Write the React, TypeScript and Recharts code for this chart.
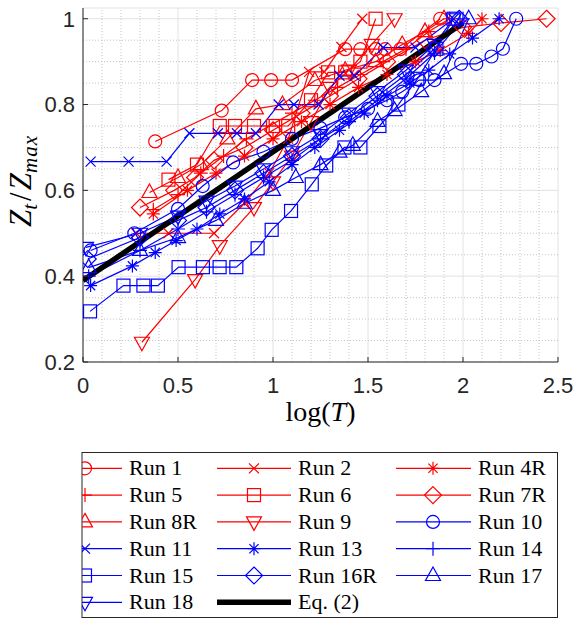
import React from "react";
import {
  LineChart,
  Line,
  XAxis,
  YAxis,
  CartesianGrid,
  ReferenceLine,
} from "recharts";

// ─── Data (log T, Zt/Zmax) ────────────────────────
const run1X = [0.38, 0.73, 0.89, 0.99, 1.1, 1.38, 1.46, 1.54, 1.59, 1.67, 1.88];
const run1Y = [0.714, 0.786, 0.857, 0.857, 0.857, 0.929, 0.929, 0.929, 0.929, 0.929, 1.0];

const run2X = [0.28, 0.45, 0.69, 0.85, 0.98, 1.08, 1.19, 1.27, 1.36, 1.47];
const run2Y = [0.5, 0.5, 0.5, 0.57, 0.64, 0.72, 0.876, 0.876, 0.934, 1.0];

const run4RX = [0.37, 0.55, 0.7, 0.85, 1.0, 1.15, 1.3, 1.45, 1.6, 1.75, 1.88, 2.03, 2.1];
const run4RY = [0.545, 0.6, 0.64, 0.68, 0.72, 0.76, 0.8, 0.84, 0.87, 0.9, 0.926, 0.966, 1.0];

const run5X = [0.37, 0.5, 0.62, 0.74, 0.86, 0.98, 1.1, 1.22, 1.34, 1.46, 1.58, 1.7, 1.82, 1.93];
const run5Y = [0.555, 0.59, 0.64, 0.68, 0.72, 0.75, 0.78, 0.81, 0.84, 0.87, 0.9, 0.93, 0.97, 1.0];

const run6X = [0.45, 0.6, 0.72, 0.8, 0.9, 1.0, 1.08, 1.2, 1.29, 1.38, 1.46, 1.54];
const run6Y = [0.625, 0.66, 0.75, 0.75, 0.75, 0.75, 0.75, 0.81, 0.875, 0.875, 0.9, 1.0];

const run7RX = [0.3, 0.48, 0.59, 0.69, 0.85, 1.0, 1.15, 1.3, 1.45, 1.6, 1.8, 2.0, 2.2, 2.44];
const run7RY = [0.56, 0.6, 0.63, 0.67, 0.7, 0.74, 0.78, 0.82, 0.86, 0.9, 0.95, 0.98, 0.99, 1.0];

const run8RX = [0.35, 0.5, 0.62, 0.76, 0.91, 1.05, 1.22, 1.38, 1.54, 1.68, 1.8, 1.9];
const run8RY = [0.595, 0.63, 0.66, 0.72, 0.79, 0.8, 0.856, 0.88, 0.9, 0.94, 0.97, 1.0];

const run9X = [0.31, 0.59, 0.72, 0.9, 1.0, 1.1, 1.2, 1.3, 1.4, 1.52, 1.64];
const run9Y = [0.246, 0.392, 0.471, 0.56, 0.62, 0.68, 0.76, 0.84, 0.88, 0.94, 1.0];

const run10X = [0.04, 0.27, 0.5, 0.63, 0.79, 0.95, 1.1, 1.25, 1.38, 1.5, 1.6, 1.68, 1.77, 1.85, 1.99, 2.07, 2.15, 2.21, 2.28];
const run10Y = [0.46, 0.5, 0.557, 0.61, 0.665, 0.69, 0.72, 0.745, 0.77, 0.79, 0.81, 0.83, 0.857, 0.857, 0.895, 0.895, 0.912, 0.93, 1.0];

const run11X = [0.04, 0.24, 0.44, 0.56, 0.71, 0.81, 0.91, 1.03, 1.11, 1.24, 1.35, 1.43, 1.58, 1.75, 1.95];
const run11Y = [0.667, 0.667, 0.667, 0.733, 0.733, 0.733, 0.733, 0.8, 0.8, 0.8, 0.867, 0.867, 0.933, 0.933, 1.0];

const run13X = [0.04, 0.26, 0.38, 0.49, 0.6, 0.72, 0.85, 0.98, 1.1, 1.22, 1.35, 1.48, 1.6, 1.72, 1.82, 1.93, 2.05, 2.19];
const run13Y = [0.378, 0.424, 0.455, 0.483, 0.51, 0.545, 0.58, 0.62, 0.66, 0.7, 0.74, 0.78, 0.82, 0.85, 0.88, 0.918, 0.955, 1.0];

const run14X = [0.03, 0.3, 0.5, 0.65, 0.8, 0.95, 1.1, 1.25, 1.4, 1.55, 1.7, 1.85, 2.0];
const run14Y = [0.4, 0.46, 0.51, 0.55, 0.59, 0.63, 0.67, 0.72, 0.76, 0.81, 0.86, 0.92, 1.0];

const run15X = [0.037, 0.213, 0.318, 0.394, 0.503, 0.631, 0.719, 0.807, 0.919, 0.993, 1.095, 1.204, 1.28, 1.376, 1.46, 1.56, 1.66, 1.76, 1.86, 1.95];
const run15Y = [0.318, 0.378, 0.378, 0.378, 0.421, 0.421, 0.421, 0.421, 0.465, 0.508, 0.552, 0.614, 0.658, 0.7, 0.7, 0.75, 0.8, 0.86, 0.93, 1.0];

const run16RX = [0.025, 0.3, 0.5, 0.65, 0.8, 0.95, 1.1, 1.25, 1.4, 1.55, 1.7, 1.85, 1.98];
const run16RY = [0.44, 0.49, 0.53, 0.56, 0.6, 0.64, 0.68, 0.72, 0.77, 0.82, 0.87, 0.93, 1.0];

const run17X = [0.03, 0.3, 0.5, 0.7, 0.85, 1.0, 1.12, 1.25, 1.35, 1.42, 1.55, 1.64, 1.78, 1.9, 2.03];
const run17Y = [0.42, 0.46, 0.49, 0.53, 0.57, 0.6, 0.63, 0.66, 0.689, 0.705, 0.761, 0.786, 0.83, 0.872, 1.0];

const run18X = [0.016, 0.3, 0.5, 0.65, 0.8, 0.95, 1.1, 1.25, 1.4, 1.55, 1.7, 1.85, 1.95];
const run18Y = [0.467, 0.5, 0.54, 0.575, 0.61, 0.65, 0.69, 0.73, 0.78, 0.83, 0.88, 0.94, 1.0];

const eqX = [0, 2];
const eqY = [0.39, 0.99];

const xTicks = [0, 0.5, 1, 1.5, 2, 2.5];
const yTicks = [0.2, 0.4, 0.6, 0.8, 1];

// ─── Styles ───────────────────────────────────────
const RED = "#ff0000";
const BLUE = "#0000ff";
const AXIS = "#262626";
const SANS = "'Liberation Sans', Arial, sans-serif";
const SERIF = "'Liberation Serif', 'Times New Roman', serif";
const LW = 1.2;

type Shape = "circle" | "x" | "star" | "plus" | "square" | "diamond" | "triUp" | "triDown" | "none";

interface Series {
  name: string;
  xs: number[];
  ys: number[];
  color: string;
  shape: Shape;
  width?: number;
}

const series: Series[] = [
  { name: "Run 1", xs: run1X, ys: run1Y, color: RED, shape: "circle" },
  { name: "Run 2", xs: run2X, ys: run2Y, color: RED, shape: "x" },
  { name: "Run 4R", xs: run4RX, ys: run4RY, color: RED, shape: "star" },
  { name: "Run 5", xs: run5X, ys: run5Y, color: RED, shape: "plus" },
  { name: "Run 6", xs: run6X, ys: run6Y, color: RED, shape: "square" },
  { name: "Run 7R", xs: run7RX, ys: run7RY, color: RED, shape: "diamond" },
  { name: "Run 8R", xs: run8RX, ys: run8RY, color: RED, shape: "triUp" },
  { name: "Run 9", xs: run9X, ys: run9Y, color: RED, shape: "triDown" },
  { name: "Run 10", xs: run10X, ys: run10Y, color: BLUE, shape: "circle" },
  { name: "Run 11", xs: run11X, ys: run11Y, color: BLUE, shape: "x" },
  { name: "Run 13", xs: run13X, ys: run13Y, color: BLUE, shape: "star" },
  { name: "Run 14", xs: run14X, ys: run14Y, color: BLUE, shape: "plus" },
  { name: "Run 15", xs: run15X, ys: run15Y, color: BLUE, shape: "square" },
  { name: "Run 16R", xs: run16RX, ys: run16RY, color: BLUE, shape: "diamond" },
  { name: "Run 17", xs: run17X, ys: run17Y, color: BLUE, shape: "triUp" },
  { name: "Run 18", xs: run18X, ys: run18Y, color: BLUE, shape: "triDown" },
  { name: "Eq. (2)", xs: eqX, ys: eqY, color: "#000000", shape: "none", width: 5.5 },
];

// minor grid positions (0.1 in x, 0.05 in y), skipping the major ones
const minorX: number[] = [];
for (let i = 1; i < 25; i++) if (i % 5 !== 0) minorX.push(i / 10);
const minorY: number[] = [];
for (let i = 5; i <= 20; i++) if (i % 4 !== 0) minorY.push(i / 20);

// ─── Markers ──────────────────────────────────────
function Marker({ shape, cx, cy, color }: { shape: Shape; cx?: number; cy?: number; color: string }) {
  if (cx == null || cy == null || shape === "none") return null;
  const common = { fill: "none", stroke: color, strokeWidth: LW };
  switch (shape) {
    case "circle":
      return <circle cx={cx} cy={cy} r={6.5} {...common} />;
    case "square":
      return <rect x={cx - 6.5} y={cy - 6.5} width={13} height={13} {...common} />;
    case "diamond":
      return <path d={`M${cx},${cy - 8.5}L${cx + 8.5},${cy}L${cx},${cy + 8.5}L${cx - 8.5},${cy}Z`} {...common} />;
    case "triUp":
      return <path d={`M${cx},${cy - 8.5}L${cx + 7.5},${cy + 5}L${cx - 7.5},${cy + 5}Z`} {...common} />;
    case "triDown":
      return <path d={`M${cx},${cy + 8.5}L${cx + 7.5},${cy - 5}L${cx - 7.5},${cy - 5}Z`} {...common} />;
    case "x":
      return <path d={`M${cx - 5},${cy - 5}L${cx + 5},${cy + 5}M${cx - 5},${cy + 5}L${cx + 5},${cy - 5}`} {...common} />;
    case "plus":
      return <path d={`M${cx - 7},${cy}L${cx + 7},${cy}M${cx},${cy - 7}L${cx},${cy + 7}`} {...common} />;
    case "star":
      return (
        <path
          d={`M${cx - 6.5},${cy}L${cx + 6.5},${cy}M${cx},${cy - 6.5}L${cx},${cy + 6.5}` +
            `M${cx - 4.6},${cy - 4.6}L${cx + 4.6},${cy + 4.6}M${cx - 4.6},${cy + 4.6}L${cx + 4.6},${cy - 4.6}`}
          {...common}
        />
      );
    default:
      return null;
  }
}

// ─── Axis ticks (inward tick marks like MATLAB) ───
function XTick(props: any) {
  const { x, y, payload } = props;
  return (
    <g>
      <line x1={x} x2={x} y1={y - 15} y2={y - 20} stroke={AXIS} />
      <text x={x} y={y} dy="0.72em" textAnchor="middle" fontFamily={SANS} fontSize={22} fill={AXIS}>
        {String(payload.value)}
      </text>
    </g>
  );
}

function YTick(props: any) {
  const { x, y, payload } = props;
  return (
    <g>
      <line x1={x + 8} x2={x + 13} y1={y} y2={y} stroke={AXIS} />
      <text x={x} y={y} dy="0.36em" textAnchor="end" fontFamily={SANS} fontSize={22} fill={AXIS}>
        {String(payload.value)}
      </text>
    </g>
  );
}

function XTitle(props: any) {
  const vb = props.viewBox;
  return (
    <text x={vb.x + vb.width / 2} y={vb.y + 59} textAnchor="middle" fontFamily={SERIF} fontSize={28} fill="#000">
      log(<tspan fontStyle="italic">T</tspan>)
    </text>
  );
}

function YTitle(props: any) {
  const vb = props.viewBox;
  const cx = 31;
  const cy = vb.y + vb.height / 2 - 4;
  return (
    <text
      x={cx}
      y={cy}
      transform={`rotate(-90, ${cx}, ${cy})`}
      textAnchor="middle"
      fontFamily={SERIF}
      fontSize={31}
      fontStyle="italic"
      fill="#000"
    >
      <tspan>Z</tspan>
      <tspan fontSize={21} dy={6}>t</tspan>
      <tspan fontStyle="normal" dy={-6} dx={3}>/</tspan>
      <tspan dx={2}>Z</tspan>
      <tspan fontSize={21} dy={6} letterSpacing={1}>max</tspan>
    </text>
  );
}

// ─── Legend ───────────────────────────────────────
const legendCols = [
  { lineX1: 48, lineX2: 122, markX: 85, textX: 129 },
  { lineX1: 217, lineX2: 291, markX: 254, textX: 298 },
  { lineX1: 396, lineX2: 471, markX: 433, textX: 478 },
];

function LegendBox() {
  const top = 452.5;
  const rowH = 26.8;
  const firstRow = 468.3;
  return (
    <svg width={576} height={624} style={{ position: "absolute", left: 0, top: 0, pointerEvents: "none" }}>
      <defs>
        <clipPath id="legendClip">
          <rect x={82} y={top} width={475.5} height={165} />
        </clipPath>
      </defs>
      <rect x={82} y={top} width={475.5} height={165} fill="#fff" stroke={AXIS} strokeWidth={1} />
      <g clipPath="url(#legendClip)">
        {series.map((s, i) => {
          const col = legendCols[i % 3];
          const cy = firstRow + Math.floor(i / 3) * rowH;
          return (
            <g key={s.name}>
              <line
                x1={col.lineX1}
                x2={col.lineX2}
                y1={cy}
                y2={cy}
                stroke={s.color}
                strokeWidth={s.width ?? LW}
              />
              <Marker shape={s.shape} cx={col.markX} cy={cy} color={s.color} />
              <text x={col.textX} y={cy + 7} fontFamily={SERIF} fontSize={22} fill="#000">
                {s.name}
              </text>
            </g>
          );
        })}
      </g>
    </svg>
  );
}

// ─── Chart ────────────────────────────────────────
export default function App() {
  return (
    <div style={{ position: "absolute", left: 0, top: 0, width: 576, height: 624, background: "#fff" }}>
      <LineChart width={576} height={440} margin={{ top: 8, right: 18, left: 0, bottom: 40 }}>
        <CartesianGrid stroke="#e2e2e2" strokeWidth={1} />
        {minorX.map((v) => (
          <ReferenceLine key={`mx${v}`} x={v} stroke="#c4c4c4" strokeDasharray="1 2" strokeWidth={1} />
        ))}
        {minorY.map((v) => (
          <ReferenceLine key={`my${v}`} y={v} stroke="#c4c4c4" strokeDasharray="1 2" strokeWidth={1} />
        ))}

        <XAxis
          dataKey="x"
          type="number"
          domain={[0, 2.5]}
          ticks={xTicks}
          allowDataOverflow
          height={38}
          tickSize={0}
          tickMargin={15}
          tickLine={false}
          axisLine={{ stroke: AXIS }}
          tick={<XTick />}
          label={XTitle}
        />
        <XAxis
          xAxisId="top"
          orientation="top"
          type="number"
          domain={[0, 2.5]}
          ticks={xTicks}
          height={0}
          mirror
          tickSize={5}
          tick={false}
          tickLine={{ stroke: AXIS }}
          axisLine={{ stroke: AXIS }}
        />
        <YAxis
          type="number"
          domain={[0.2, 1.025]}
          ticks={yTicks}
          allowDataOverflow
          width={83}
          tickSize={0}
          tickMargin={8}
          tickLine={false}
          axisLine={{ stroke: AXIS }}
          tick={<YTick />}
          label={YTitle}
        />
        <YAxis
          yAxisId="right"
          orientation="right"
          type="number"
          domain={[0.2, 1.025]}
          ticks={yTicks}
          width={0}
          mirror
          tickSize={5}
          tick={false}
          tickLine={{ stroke: AXIS }}
          axisLine={{ stroke: AXIS }}
        />

        {series.map((s) => (
          <Line
            key={s.name}
            name={s.name}
            data={s.xs.map((x, i) => ({ x, y: s.ys[i] }))}
            dataKey="y"
            type="linear"
            stroke={s.color}
            strokeWidth={s.width ?? LW}
            dot={
              s.shape === "none"
                ? false
                : (p: any) => (
                    <Marker key={`${s.name}-${p.index}`} shape={s.shape} cx={p.cx} cy={p.cy} color={s.color} />
                  )
            }
            activeDot={false}
            isAnimationActive={false}
          />
        ))}
      </LineChart>
      <LegendBox />
    </div>
  );
}
